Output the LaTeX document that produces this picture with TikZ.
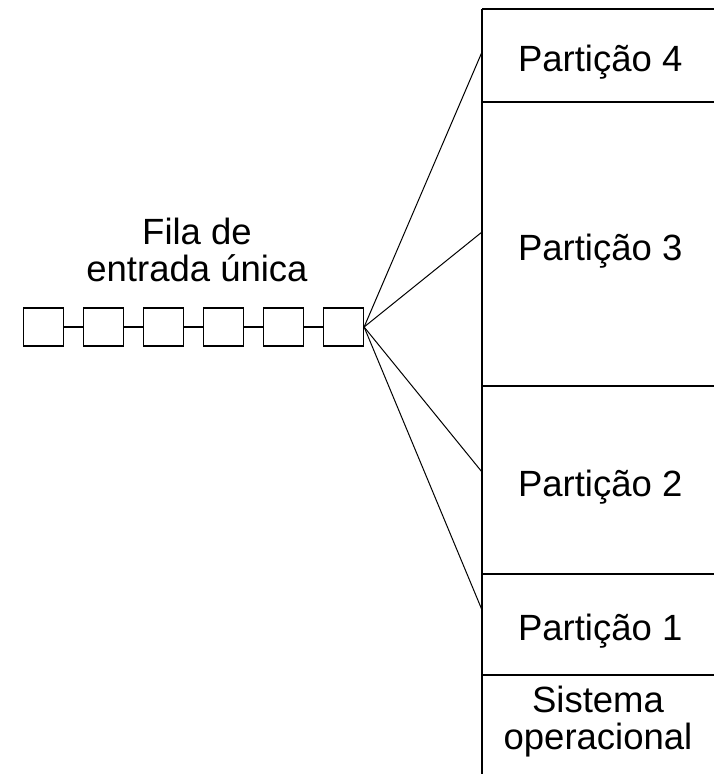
\documentclass[tikz,border=0pt]{standalone}
\usepackage{fontspec}
\setmainfont{Liberation Sans}
\begin{document}
\begin{tikzpicture}[x=1pt,y=-1pt,
  qbox/.style={draw, line width=1.2pt, minimum width=40pt, minimum height=38pt, inner sep=0pt},
  part/.style={anchor=north west, minimum width=236pt, inner sep=0pt, text height=34pt, text depth=2pt, font=\fontsize{36.5}{37}\selectfont},
  lbl/.style={align=center, inner sep=0pt, font=\fontsize{36.5}{37}\selectfont},
  link/.style={line width=1.1pt},
  fan/.style={line width=1pt},
  hb/.style={line width=1.8pt},
  vb/.style={line width=1.2pt}]
\useasboundingbox (0,0) rectangle (714,774);
% queue
\foreach \i in {1,...,6} {
  \node[qbox] (q\i) at ({43.5+60*(\i-1)},327) {};
}
\foreach \i/\j in {1/2,2/3,3/4,4/5,5/6} {
  \draw[link] (q\i.east) -- (q\j.west);
}
\node[lbl] (fila) at (197,250) {Fila de\\entrada única};
% partitions
\node[part, minimum height=93pt] (p4) at (482,9) {Partição 4};
\node[part, minimum height=284pt] (p3) at (482,102) {Partição 3};
\node[part, minimum height=188pt] (p2) at (482,386) {Partição 2};
\node[part, minimum height=101pt] (p1) at (482,574) {Partição 1};
\node[part, minimum height=99pt] (so) at (482,675) {};
\node[lbl] (sotxt) at (598,722) {Sistema\\operacional};
% borders
\draw[vb] (p4.north west) -- (so.south west);
\draw[hb] (p4.north west) -- ++(260,0);
\draw[hb] (p3.north west) -- ++(260,0);
\draw[hb] (p2.north west) -- ++(260,0);
\draw[hb] (p1.north west) -- ++(260,0);
\draw[hb] (so.north west) -- ++(260,0);
% fan
\coordinate (t4) at (482,52);
\coordinate (t3) at (482,232);
\coordinate (t2) at (482,472);
\coordinate (t1) at (482,610);
\foreach \k in {1,2,3,4} {
  \draw[fan] (q6.east) -- (t\k);
}
\end{tikzpicture}
\end{document}
